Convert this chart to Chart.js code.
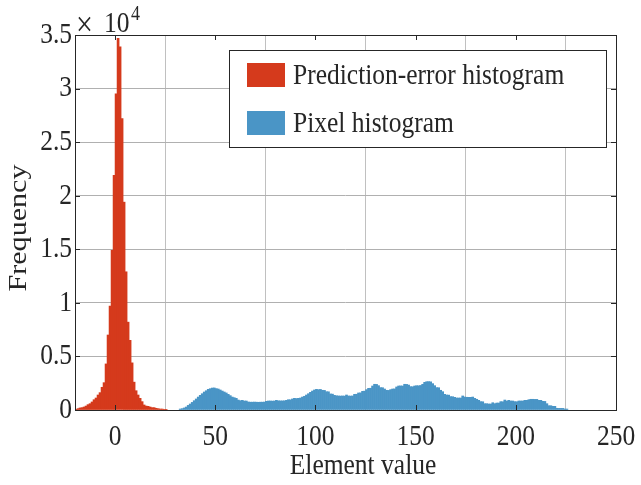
<!DOCTYPE html>
<html lang="en">
<head>
  <meta charset="UTF-8" />
  <title>Prediction-error vs pixel histogram</title>
  <script src="https://cdn.jsdelivr.net/npm/chart.js"></script>
  <style>
    body { margin: 0; background: #fff; }
    canvas { display: block; }
  </style>
</head>
<body>
  <canvas id="histChart" width="641" height="485"></canvas>

  <script>
    // first bin edge of each histogram (bins are 1 wide)
    const redFirstBin = -20;
    const blueFirstBin = 32;

    // Prediction-error histogram, bins -20 .. 25
    const redCounts = [
      60, 125, 190, 220, 280, 370, 500, 590, 750, 960,
      1120, 1400, 1620, 2120, 2550, 4300, 7000, 9700, 14900, 21900,
      29500, 34700, 33900, 27200, 19400, 12900, 8200, 6500, 4400, 2600,
      1800, 1400, 1090, 780, 470, 370, 340, 280, 220, 220,
      160, 125, 90, 90, 60, 30
    ];

    // Pixel histogram, bins 32 .. 225
    const blueCounts = [
      90, 125, 190, 280, 430, 560, 710, 870, 1030, 1210,
      1370, 1520, 1680, 1800, 1930, 1990, 2050, 2060, 2000, 1960,
      1870, 1770, 1680, 1590, 1460, 1340, 1210, 1150, 1090, 930,
      870, 900, 840, 840, 750, 730, 730, 740, 730, 720,
      730, 730, 740, 810, 840, 840, 830, 840, 900, 860,
      850, 850, 860, 900, 960, 950, 1030, 1090, 1070, 1090,
      1120, 1210, 1280, 1400, 1520, 1650, 1770, 1870, 1930, 1900,
      1920, 1840, 1830, 1710, 1700, 1500, 1480, 1370, 1330, 1310,
      1300, 1310, 1300, 1400, 1310, 1300, 1310, 1460, 1470, 1590,
      1600, 1740, 1760, 1900, 2020, 2030, 2240, 2400, 2390, 2270,
      2090, 2080, 1960, 1840, 1830, 1900, 1960, 1970, 2150, 2240,
      2250, 2240, 2400, 2390, 2330, 2180, 2170, 2240, 2270, 2260,
      2290, 2400, 2580, 2640, 2650, 2630, 2460, 2270, 2090, 2080,
      1840, 1710, 1460, 1400, 1390, 1250, 1240, 1180, 1120, 1120,
      1120, 1310, 1210, 1190, 1180, 1180, 1210, 1090, 1000, 900,
      780, 770, 590, 590, 560, 560, 680, 590, 650, 650,
      780, 770, 930, 840, 900, 840, 840, 780, 770, 840,
      840, 840, 900, 900, 960, 1000, 1000, 990, 990, 900,
      900, 810, 800, 590, 400, 400, 340, 340, 160, 150,
      150, 150, 90, 90
    ];

    const xTicks = [0, 50, 100, 150, 200, 250];
    const xTickLabels = ['0', '50', '100', '150', '200', '250'];
    const yTicks = [0, 5000, 10000, 15000, 20000, 25000, 30000, 35000];
    const yTickLabels = ['0', '0.5', '1', '1.5', '2', '2.5', '3', '3.5'];
    const seriesNames = ['Prediction-error histogram', 'Pixel histogram'];
    const xTitle = 'Element value';
    const yTitle = 'Frequency';

    const serif = '"Liberation Serif", "Times New Roman", serif';
    const ink = '#262626';
    const stretch = 1.18;   // the source figure's text is taller than it is wide

    // bar centred in the middle of its bin
    const toPoints = (first, counts) => counts.map((c, i) => ({ x: first + i + 0.5, y: c }));

    function text(ctx, str, x, y, size, align, rotated) {
      ctx.save();
      ctx.translate(x, y);
      if (rotated) { ctx.rotate(-Math.PI / 2); ctx.scale(stretch, 1); }
      else ctx.scale(1, stretch);
      ctx.font = size + 'px ' + serif;
      ctx.textAlign = align;
      ctx.textBaseline = 'middle';
      ctx.fillStyle = ink;
      ctx.fillText(str, 0, 0);
      ctx.restore();
    }

    // axes box, tick marks and labels, titles, x10^4 factor and the legend
    const decorations = {
      id: 'decorations',
      afterDatasetsDraw(chart) {
        const { ctx, chartArea: a, scales } = chart;
        ctx.save();
        ctx.strokeStyle = ink;
        ctx.lineWidth = 1;
        ctx.beginPath();
        xTicks.forEach(v => {
          const px = Math.round(scales.x.getPixelForValue(v)) + 0.5;
          ctx.moveTo(px, a.bottom); ctx.lineTo(px, a.bottom - 5);
          ctx.moveTo(px, a.top); ctx.lineTo(px, a.top + 5);
        });
        yTicks.forEach(v => {
          const py = Math.round(scales.y.getPixelForValue(v)) + 0.5;
          ctx.moveTo(a.left, py); ctx.lineTo(a.left + 5, py);
          ctx.moveTo(a.right, py); ctx.lineTo(a.right - 5, py);
        });
        ctx.stroke();
        ctx.strokeRect(Math.round(a.left) + 0.5, Math.round(a.top) + 0.5,
          Math.round(a.right - a.left), Math.round(a.bottom - a.top));

        // tick labels
        xTicks.forEach((v, i) => text(ctx, xTickLabels[i], scales.x.getPixelForValue(v), a.bottom + 27, 25.5, 'center'));
        yTicks.forEach((v, i) => text(ctx, yTickLabels[i], a.left - 3, scales.y.getPixelForValue(v), 25.5, 'right'));

        // axis titles
        text(ctx, xTitle, 363, 466, 25.5, 'center');
        text(ctx, yTitle, 19, 228, 25.5, 'center', true);

        // exponent label
        text(ctx, '\u00d7', a.left + 1, a.top - 8, 30, 'left');
        text(ctx, '10', a.left + 29, a.top - 11, 25.5, 'left');
        text(ctx, '4', a.left + 56, a.top - 21, 18, 'left');

        // legend
        const bx = a.right - 387, by = a.top + 15, bw = 377, bh = 97;
        ctx.fillStyle = '#fff';
        ctx.fillRect(bx, by, bw, bh);
        ctx.strokeStyle = ink;
        ctx.strokeRect(bx + 0.5, by + 0.5, bw, bh);
        chart.data.datasets.forEach((ds, i) => {
          const cy = by + 25 + i * 48;
          ctx.fillStyle = ds.backgroundColor;
          ctx.fillRect(bx + 18, cy - 12, 38, 24);
          text(ctx, ds.label, bx + 64, cy + 1, 25.5, 'left');
        });
        ctx.restore();
      }
    };

    const ctx = document.getElementById('histChart').getContext('2d');
    new Chart(ctx, {
      type: 'bar',
      data: {
        datasets: [
          {
            label: seriesNames[0],
            data: toPoints(redFirstBin, redCounts),
            backgroundColor: 'rgb(213, 58, 28)',
            borderWidth: 0,
            grouped: false,
            barPercentage: 1,
            categoryPercentage: 1
          },
          {
            label: seriesNames[1],
            data: toPoints(blueFirstBin, blueCounts),
            backgroundColor: 'rgb(74, 149, 198)',
            borderWidth: 0,
            grouped: false,
            barPercentage: 1,
            categoryPercentage: 1
          }
        ]
      },
      options: {
        responsive: false,
        animation: false,
        devicePixelRatio: 1,
        layout: { padding: { top: 35, right: 25, left: 0, bottom: 0 } },
        plugins: { legend: { display: false }, tooltip: { enabled: false } },
        scales: {
          x: {
            type: 'linear',
            min: -20,
            max: 250,
            offset: false,
            afterBuildTicks: s => { s.ticks = xTicks.map(v => ({ value: v })); },
            afterFit: s => { s.height = 75; s.paddingLeft = 0; s.paddingRight = 0; },
            grid: { color: '#c0c0c0', drawTicks: false },
            border: { display: false },
            ticks: { display: false }
          },
          y: {
            min: 0,
            max: 35000,
            afterBuildTicks: s => { s.ticks = yTicks.map(v => ({ value: v })); },
            afterFit: s => { s.width = 75; s.paddingTop = 0; s.paddingBottom = 0; },
            grid: { color: '#b0b0b0', drawTicks: false },
            border: { display: false },
            ticks: { display: false }
          }
        }
      },
      plugins: [decorations]
    });
  </script>
</body>
</html>
